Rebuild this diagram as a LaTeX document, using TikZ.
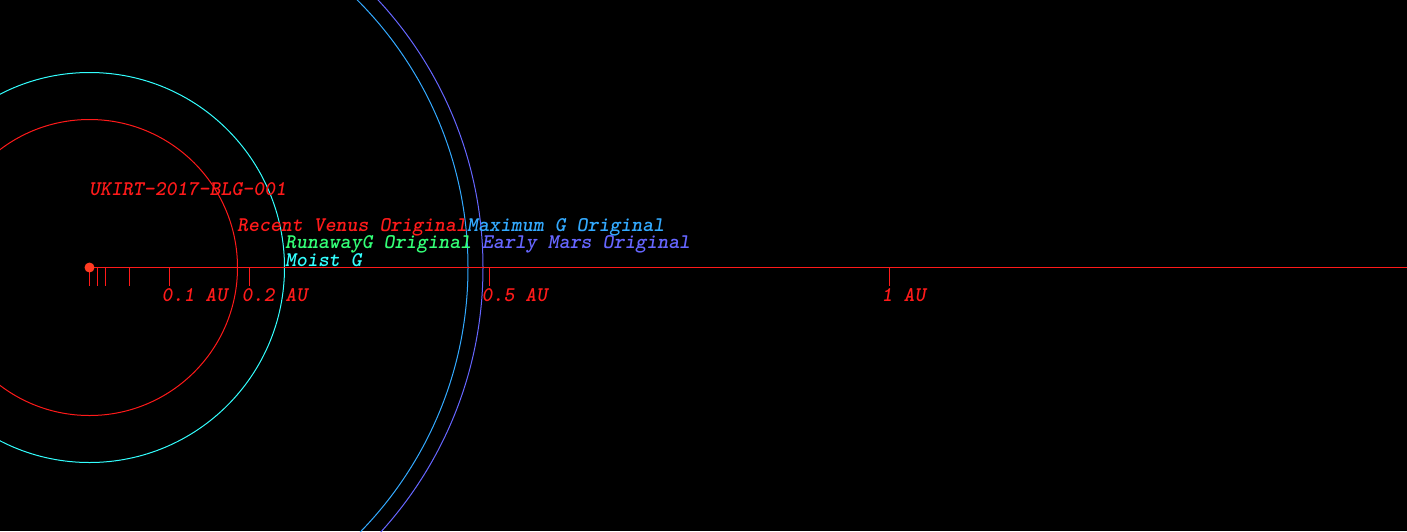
\documentclass[tikz,border=0pt]{standalone}
\definecolor{cred}{HTML}{FF1A1A}
\definecolor{cstar}{HTML}{FF3B22}
\definecolor{ccyan}{HTML}{33FFFF}
\definecolor{cgreen}{HTML}{33FF77}
\definecolor{clblue}{HTML}{33AAFF}
\definecolor{cpurple}{HTML}{6666FF}
\begin{document}
\begin{tikzpicture}[x=1pt,y=-1pt,
  lbl/.style={anchor=base west,inner sep=0pt,font=\ttfamily\bfseries\slshape\fontsize{20.85}{20.85}\selectfont},
  orbit/.style={line width=1pt},
  tick/.style={cred,line width=1pt}]
\useasboundingbox (0,0) rectangle (1407,531);
\fill[black] (0,0) rectangle (1407,531);
\clip (0,0) rectangle (1407,531);
\coordinate (star) at (89.5,267.5);
% orbits
\draw[orbit,cred] (star) circle[radius=148];
\draw[orbit,ccyan] (star) circle[radius=195];
\draw[orbit,clblue] (star) circle[radius=378.5];
\draw[orbit,cpurple] (star) circle[radius=393.5];
% axis
\coordinate (axend) at (1407,267.5);
\draw[tick] (star) -- (axend);
\foreach \x in {89.5,97.5,105.5,129.5,169.5,249.5,489.5,889.5}
  \draw[tick] (\x,267.5) -- (\x,285.5);
% tick labels
\node[lbl,cred] (t1) at (161.5,301.5) {0.1 AU};
\node[lbl,cred] (t2) at (241.5,301.5) {0.2 AU};
\node[lbl,cred] (t5) at (481.5,301.5) {0.5 AU};
\node[lbl,cred] (t10) at (881.5,301.5) {1 AU};
% star
\fill[cstar] (star) circle[radius=5];
% labels
\node[lbl,cred] (name) at (89,195) {UKIRT-2017-BLG-001};
\node[lbl,cred] (rv) at (237,231) {Recent Venus Original};
\node[lbl,clblue] (mg) at (467,231) {Maximum G Original};
\node[lbl,cgreen] (rg) at (285,248) {RunawayG Original};
\node[lbl,cpurple] (em) at (482,248) {Early Mars Original};
\node[lbl,ccyan] (mo) at (285,266) {Moist G};
\end{tikzpicture}
\end{document}
